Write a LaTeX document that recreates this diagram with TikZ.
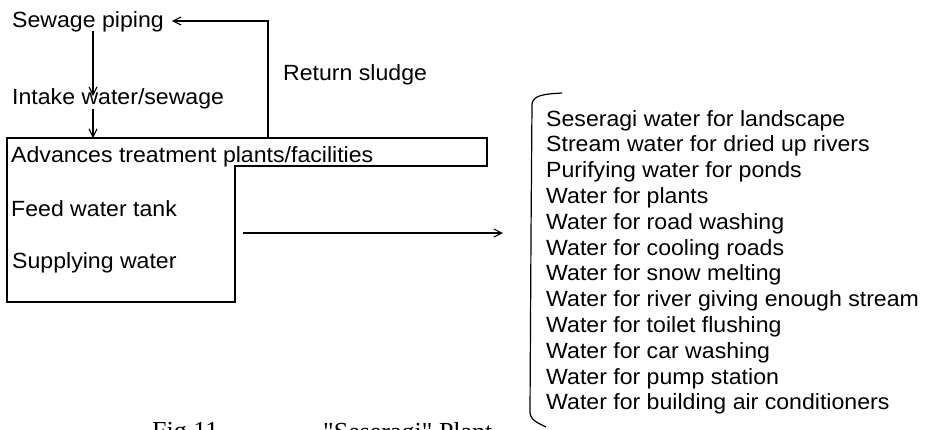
\documentclass[tikz,border=0pt]{standalone}
\usepackage{fontspec}
\setmainfont{Liberation Sans}[FakeStretch=1.05]
\newfontfamily\capfont{Liberation Serif}
\usetikzlibrary{arrows.meta}
\begin{document}
\begin{tikzpicture}[x=1pt,y=-1pt,
  lbl/.style={anchor=base west, inner sep=0pt, font=\fontsize{22}{26}\selectfont},
  ln/.style={line width=1.3pt},
  arr/.style={ln, -{Straight Barb[length=8pt,width=8pt,line width=1.1pt]}},
  captxt/.style={anchor=north west, inner sep=0pt, font=\capfont\fontsize{26}{30}\selectfont}]
\useasboundingbox (0,0) rectangle (931,429);
\clip (0,0) rectangle (931,429);
\fill[white] (0,0) rectangle (931,429);

% left texts
\node[lbl] (sew) at (12,27) {Sewage piping};
\node[lbl] (intake) at (12,104) {Intake water/sewage};
\node[lbl] (adv) at (11,162) {Advances treatment plants/facilities};
\node[lbl] (feed) at (11,216) {Feed water tank};
\node[lbl] (supp) at (12,268) {Supplying water};
\node[lbl] (ret) at (283,80) {Return sludge};

% plant outline
\draw[ln] (7,138) -- (487,138) -- (487,166) -- (235,166) -- (235,302) -- (7,302) -- cycle;
\coordinate (ptop) at (93,138);
\coordinate (rtop) at (268,138);
\coordinate (c1) at (93,0);
\coordinate (rc) at (268,21);
\coordinate (tip1) at (93,96);

% arrows
\draw[arr] ([yshift=-4pt]sew.base -| c1) -- (tip1);
\draw[arr] ([yshift=-5pt]intake.base -| c1) -- (ptop);
\draw[arr] (rtop) -- (rc) -- ([xshift=8pt]sew.east |- rc);

\coordinate (hs) at (243,233);
\coordinate (he) at (503,233);
\draw[arr] (hs) -- (he);

% list
\foreach [count=\i from 0] \t in {Seseragi water for landscape,
  Stream water for dried up rivers,
  Purifying water for ponds,
  Water for plants,
  Water for road washing,
  Water for cooling roads,
  Water for snow melting,
  Water for river giving enough stream,
  Water for toilet flushing,
  Water for car washing,
  Water for pump station,
  Water for building air conditioners}
  \node[lbl] (u\i) at (546,{126+25.8*\i}) {\t};

% brace
\draw[line width=1.2pt] (562,93) .. controls (545,94) and (533,95) .. (532,104)
  -- (531,236) -- (530,412) .. controls (530,420) and (538,423) .. (546,427);

% caption (cut off at bottom)
\node[captxt] (fig) at (152,422) {Fig.11};
\node[captxt] (title) at (323,422) {"Seseragi" Plant};
\end{tikzpicture}
\end{document}
